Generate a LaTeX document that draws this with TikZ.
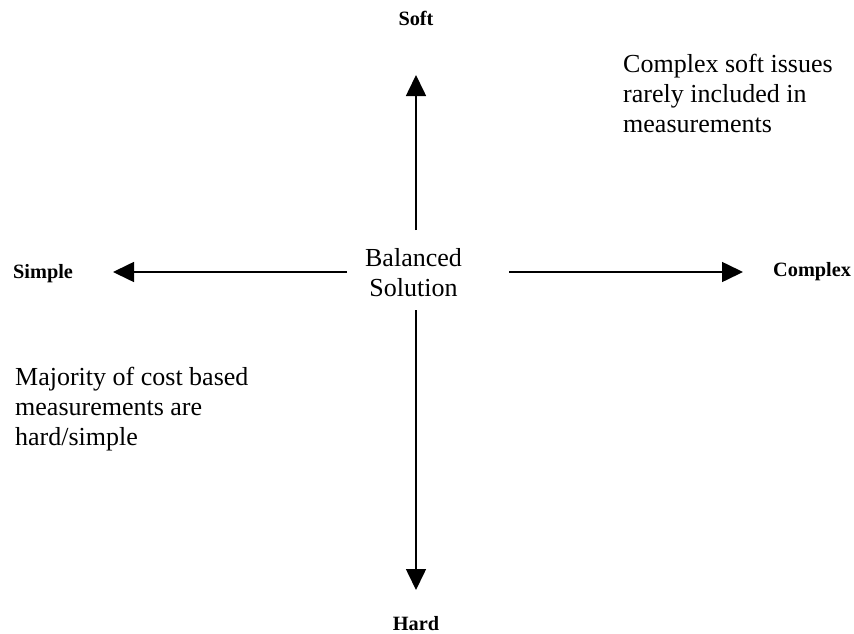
\documentclass[tikz,border=0pt]{standalone}
\usepackage{fontspec}
\setmainfont{Liberation Serif}
\usetikzlibrary{arrows.meta}
\begin{document}
\begin{tikzpicture}[x=1pt,y=-1pt,
  axis/.style={line width=1.6pt,-{Triangle[length=21pt,width=20pt]}},
  pole/.style={font=\fontsize{20.3}{24}\selectfont\bfseries,inner sep=0pt},
  note/.style={font=\fontsize{26}{30}\selectfont,inner sep=0pt,align=left,anchor=north west}]
\useasboundingbox (0,0) rectangle (854,634);
\node[note,align=center,anchor=north] (centre) at (413.5,248) {Balanced\\Solution};
\node[pole,anchor=base] (soft) at (416,26) {Soft};
\node[pole,anchor=base] (hard) at (416,630) {Hard};
\node[pole,anchor=base west] (simple) at (13,278) {Simple};
\node[pole,anchor=base west] (complex) at (773,276) {Complex};
\node[note] (topnote) at (623,54) {Complex soft issues\\rarely included in\\measurements};
\node[note] (botnote) at (15,367) {Majority of cost based\\measurements are\\hard/simple};
\coordinate (upS) at (416,230);
\coordinate (upE) at (416,75);
\coordinate (dnS) at (416,310);
\coordinate (dnE) at (416,590);
\coordinate (lfS) at (347,272);
\coordinate (lfE) at (113,272);
\coordinate (rtS) at (509,272);
\coordinate (rtE) at (743,272);
\draw[axis] (upS) -- (upE);
\draw[axis] (dnS) -- (dnE);
\draw[axis] (lfS) -- (lfE);
\draw[axis] (rtS) -- (rtE);
\end{tikzpicture}
\end{document}
